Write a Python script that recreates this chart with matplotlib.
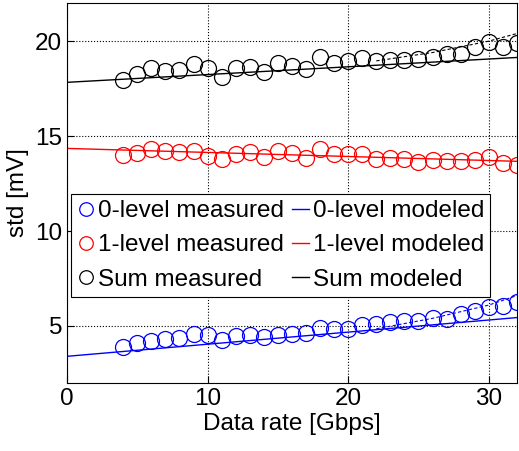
import matplotlib
matplotlib.use("Agg")
import matplotlib.pyplot as plt

plt.rcParams['font.family'] = ['Liberation Sans', 'DejaVu Sans']
plt.rcParams['font.size'] = 17.5

rate = list(range(4, 33))

# measured std (mV)
zero_meas = [3.89, 4.11, 4.21, 4.33, 4.37, 4.60, 4.51, 4.25, 4.47, 4.51,
             4.42, 4.54, 4.60, 4.65, 4.89, 4.82, 4.86, 5.07, 5.12, 5.21,
             5.25, 5.25, 5.42, 5.38, 5.65, 5.79, 6.00, 6.04, 6.26]
one_meas = [14.02, 14.09, 14.32, 14.19, 14.14, 14.19, 13.96, 13.79, 14.05, 14.14,
            13.91, 14.23, 14.09, 13.84, 14.32, 14.05, 14.05, 14.05, 13.79, 13.84,
            13.79, 13.61, 13.74, 13.67, 13.67, 13.74, 13.91, 13.56, 13.49]
sum_meas = [17.95, 18.26, 18.56, 18.44, 18.47, 18.79, 18.58, 18.12, 18.56, 18.65,
            18.35, 18.83, 18.70, 18.53, 19.14, 18.84, 18.93, 19.09, 18.93, 19.00,
            19.02, 19.05, 19.14, 19.30, 19.30, 19.67, 19.98, 19.70, 19.88]

# modeled lines
model_x = [0, 32]
zero_model = [3.40, 5.44]
one_model = [14.35, 13.67]
sum_model = [17.83, 19.14]

# dashed extra curves at high rates
dash_x = [22, 26, 30, 32]
zero_dash = [4.85, 5.40, 6.10, 6.60]
sum_dash = [18.96, 19.40, 20.00, 20.40]

fig = plt.figure(figsize=(5.19, 4.51), dpi=100)
ax = fig.add_axes([0.129, 0.151, 0.867, 0.842])

ms = 11.5
ax.plot(rate, zero_meas, 'o', mfc='none', mec='blue', ms=ms, mew=0.9, label='0-level measured')
ax.plot(rate, one_meas, 'o', mfc='none', mec='red', ms=ms, mew=0.9, label='1-level measured')
ax.plot(rate, sum_meas, 'o', mfc='none', mec='black', ms=ms, mew=0.9, label='Sum measured')
ax.plot(model_x, zero_model, '-', color='blue', lw=1, label='0-level modeled')
ax.plot(model_x, one_model, '-', color='red', lw=1, label='1-level modeled')
ax.plot(model_x, sum_model, '-', color='black', lw=1, label='Sum modeled')
ax.plot(dash_x, zero_dash, '--', color='blue', lw=0.8, dashes=(3, 2))
ax.plot(dash_x, sum_dash, '--', color='black', lw=0.8, dashes=(3, 2))

ax.set_xlim(0, 32)
ax.set_ylim(2, 22)
ax.set_xticks([0, 10, 20, 30])
ax.set_yticks([5, 10, 15, 20])
ax.grid(True, color='black', linestyle=':', linewidth=0.8)
ax.tick_params(direction='in', length=5)
ax.set_xlabel('Data rate [Gbps]', labelpad=2)
ax.set_ylabel('std [mV]', labelpad=4)

# legend fills column by column: measured on the left, modeled on the right
leg = ax.legend(ncol=2, loc='upper left', bbox_to_anchor=(0.009, 0.497), borderaxespad=0,
                handlelength=0.7, handletextpad=0.15, columnspacing=0.35,
                labelspacing=0.5, borderpad=0.25, fancybox=False,
                edgecolor='black', framealpha=1, markerscale=0.85)
leg.get_frame().set_linewidth(0.8)

plt.savefig('out.png', dpi=100)
